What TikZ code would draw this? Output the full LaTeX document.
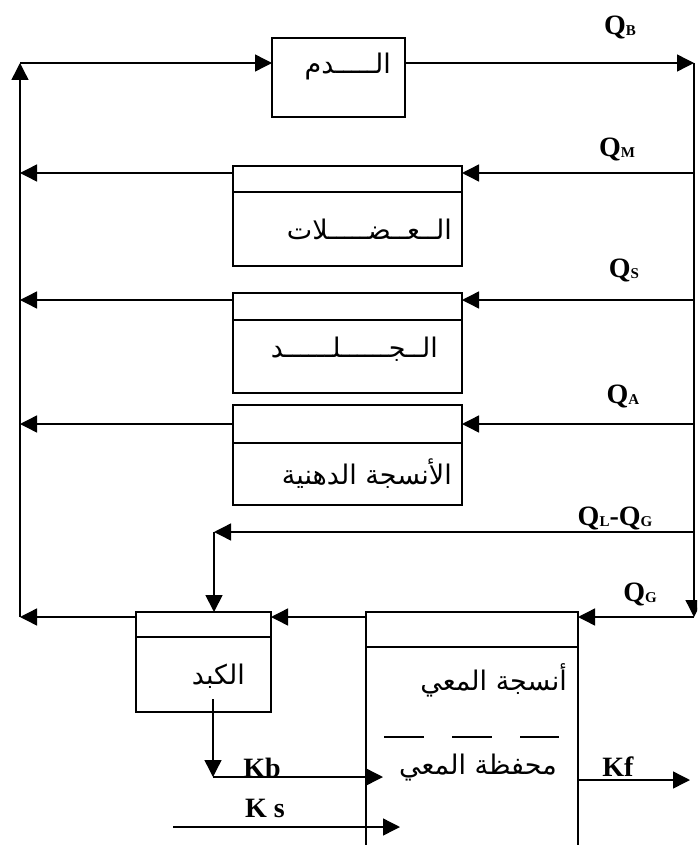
\documentclass[tikz,border=0pt]{standalone}
\usepackage{fontspec}
\setmainfont{Liberation Serif}
\newfontfamily\arabicfont[Script=Arabic]{DejaVu Sans}
\TeXXeTstate=1
\usetikzlibrary{arrows.meta, positioning, calc}
\tikzset{
    organhead/.style={rectangle, draw=black, line width=1.3pt, inner sep=0pt, outer sep=0pt, minimum width=#1},
    organbox/.style={rectangle, draw=black, line width=1.3pt, inner sep=0pt, outer sep=0pt, minimum width=#1},
    flowarrow/.style={-{Triangle[length=17pt, width=17pt]}, line width=1.4pt},
    gutdash/.style={line width=1.2pt, dash pattern=on 40pt off 28pt},
    artext/.style={font=\arabicfont\fontsize{27pt}{30pt}\selectfont, inner sep=0pt},
    qlabel/.style={font=\bfseries\fontsize{28pt}{30pt}\selectfont, inner sep=0pt}
}
\newcommand{\qsub}[1]{\raisebox{-1pt}{\fontsize{15pt}{15pt}\selectfont #1}}

\begin{document}
\begin{tikzpicture}[x=1pt, y=-1pt]
\useasboundingbox (0,0) rectangle (697,845);
\clip (0,0) rectangle (697,845);

% compartments
\node[organbox=133pt, minimum height=79pt] (blood) at (338.5,77.5) {};
\node[organhead=229pt, minimum height=26pt] (muscletop) at (347.5,179) {};
\node[organbox=229pt, minimum height=74pt, below=0pt of muscletop] (muscle) {};
\node[organhead=229pt, minimum height=27pt] (skintop) at (347.5,306.5) {};
\node[organbox=229pt, minimum height=73pt, below=0pt of skintop] (skin) {};
\node[organhead=229pt, minimum height=38pt] (fattop) at (347.5,424) {};
\node[organbox=229pt, minimum height=62pt, below=0pt of fattop] (fat) {};
\node[organhead=135pt, minimum height=25pt] (livertop) at (203.5,624.5) {};
\node[organbox=135pt, minimum height=75pt, below=0pt of livertop] (liver) {};
\node[organhead=212pt, minimum height=35pt] (guttop) at (472,629.5) {};
\node[organbox=212pt, minimum height=220pt, below=0pt of guttop] (gut) {};

% texts
\node[artext, anchor=east] (bloodtxt) at ([xshift=-14pt, yshift=11pt]blood.east) {\beginR الـــــدم\endR};
\node[artext, anchor=east] (muscletxt) at ([xshift=-10pt]muscle.east) {\beginR الــعــضـــــلات\endR};
\node[artext, anchor=east] (skintxt) at ([xshift=-24pt, yshift=7pt]skin.east) {\beginR الــجــــــلــــــد\endR};
\node[artext, anchor=east] (fattxt) at ([xshift=-10pt]fat.east) {\beginR الأنسجة الدهنية\endR};
\node[artext, anchor=east] (livertxt) at ([xshift=-26pt, yshift=-2pt]liver.east) {\beginR الكبد\endR};
\node[artext, anchor=east] (guttxt) at (567,680) {\beginR أنسجة المعي\endR};
\node[artext, anchor=east] (walltxt) at (557,768) {\beginR محفظة المعي\endR};
\draw[gutdash] ([xshift=18pt]gut.west |- 0,737) -- ([xshift=-19pt]gut.east |- 0,737);

% buses
\coordinate (topleft) at (20,63);
\coordinate (topright) at (694,63);
\coordinate (botleft) at (20,617);
\coordinate (botright) at (694,617);
\coordinate (qm) at (694,173);
\coordinate (qs) at (694,300);
\coordinate (qa) at (694,424);
\coordinate (ql) at (694,532);
\coordinate (qlcorner) at (214,532);
\coordinate (kb) at (213,777);
\coordinate (ks) at (173,827);
\coordinate (kf) at (690,780);

\draw[flowarrow] (botleft) -- (topleft);
\draw[flowarrow] (topleft) -- (blood.west |- topleft);
\draw[flowarrow] (blood.east |- topright) -- (topright);
\draw[flowarrow] (topright) -- (botright);
\draw[flowarrow] (botright) -- (guttop.east |- botright);

\draw[flowarrow] (qm) -- (muscletop.east |- qm);
\draw[flowarrow] (muscletop.west |- qm) -- (botleft |- qm);
\draw[flowarrow] (qs) -- (skintop.east |- qs);
\draw[flowarrow] (skintop.west |- qs) -- (botleft |- qs);
\draw[flowarrow] (qa) -- (fattop.east |- qa);
\draw[flowarrow] (fattop.west |- qa) -- (botleft |- qa);

\draw[flowarrow] (ql) -- (qlcorner);
\draw[flowarrow, line width=1.8pt] (qlcorner) -- (qlcorner |- livertop.north);
\draw[flowarrow] (guttop.west |- botright) -- (livertop.east |- botright);
\draw[flowarrow] (livertop.west |- botleft) -- (botleft);

\draw[flowarrow] ($(liver.south -| kb)+(0,-13)$) -- (kb);
\draw[flowarrow] (kb) -- ([xshift=17pt]gut.west |- kb);
\draw[flowarrow] (ks) -- ([xshift=34pt]gut.west |- ks);
\draw[flowarrow] (gut.east |- kf) -- (kf);

% labels
\node[qlabel] (qblab) at (620,28) {Q\qsub{B}};
\node[qlabel] (qmlab) at (617,150) {Q\qsub{M}};
\node[qlabel] (qslab) at (624,270) {Q\qsub{S}};
\node[qlabel] (qalab) at (623,396) {Q\qsub{A}};
\node[qlabel] (qllab) at (615,518) {Q\qsub{L}-Q\qsub{G}};
\node[qlabel] (qglab) at (640,594) {Q\qsub{G}};
\node[qlabel] (kblab) at (262,768) {Kb};
\node[qlabel] (kslab) at (265,808) {K s};
\node[qlabel] (kflab) at (618,767) {Kf};

\end{tikzpicture}
\end{document}
